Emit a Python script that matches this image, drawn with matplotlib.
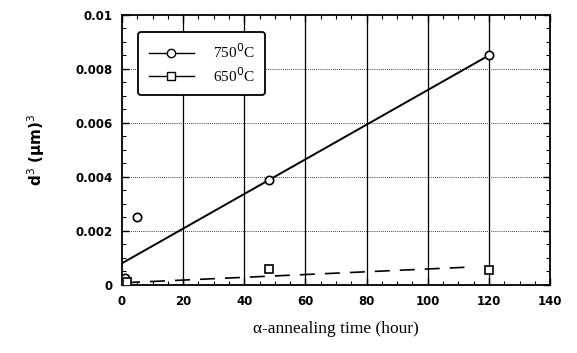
import numpy as np
import matplotlib.pyplot as plt
from matplotlib.ticker import MultipleLocator

# measured points
t750 = [0, 1, 5, 48, 120]
d750 = [0.0001, 0.00025, 0.0025, 0.0039, 0.0085]
t650 = [0, 1.5, 48, 120]
d650 = [0.00003, 0.0001, 0.0006, 0.00055]

# fitted lines (end points)
fit750_t = [0, 120]
fit750_d = [0.0008, 0.0085]
fit650_t = [1, 112]
fit650_d = [0.00008, 0.00065]

xticks = [0, 20, 40, 60, 80, 100, 120, 140]
yticks = [0, 0.002, 0.004, 0.006, 0.008, 0.01]
ylabels = ["0", "0.002", "0.004", "0.006", "0.008", "0.01"]

fig = plt.figure(figsize=(5.77, 3.53), dpi=100)
ax = fig.add_axes([0.2114, 0.193, 0.742, 0.765])

# grid: solid verticals, dotted horizontals
for x in xticks[1:-1]:
    ax.axvline(x, color="black", lw=0.9, zorder=1)
for y in yticks[1:-1]:
    ax.axhline(y, color="black", lw=0.6, ls=(0, (1, 1.5)), zorder=1)

# lines
ax.plot(fit750_t, fit750_d, color="black", lw=1.4, zorder=2)
ax.plot(fit650_t, fit650_d, color="black", lw=1.2, ls=(0, (9, 6)), zorder=2)

ax.plot(t750, d750, ls="none", marker="o", ms=6, mfc="white", mec="black", mew=1.2, zorder=3)
ax.plot(t650, d650, ls="none", marker="s", ms=6, mfc="white", mec="black", mew=1.2, zorder=3)

# legend handles
h1, = ax.plot([], [], color="black", lw=1.0, marker="o", ms=6, mfc="white", mec="black")
h2, = ax.plot([], [], color="black", lw=1.0, marker="s", ms=6, mfc="white", mec="black")
leg = ax.legend([h1, h2], ["750$^0$C", "650$^0$C"], loc="upper left",
                bbox_to_anchor=(0.037, 0.937), borderaxespad=0, fancybox=True,
                handlelength=3.0, handletextpad=1.2, borderpad=0.7, labelspacing=0.3,
                prop={"family": "Liberation Serif", "size": 11})
leg.get_frame().set_edgecolor("black")
leg.get_frame().set_linewidth(1.3)
leg.get_frame().set_alpha(1)

ax.set_xlim(0, 140)
ax.set_ylim(0, 0.01)
ax.set_xticks(xticks)
ax.set_yticks(yticks)
ax.set_yticklabels(ylabels)
ax.xaxis.set_minor_locator(MultipleLocator(5))
ax.yaxis.set_minor_locator(MultipleLocator(0.0005))
ax.tick_params(which="both", direction="in", top=True, right=True)
ax.tick_params(which="major", length=5, width=1)
ax.tick_params(which="minor", length=3, width=0.8)
ax.tick_params(axis="both", labelsize=8.5, pad=7)
for lab in ax.get_xticklabels() + ax.get_yticklabels():
    lab.set_fontweight("bold")
for s in ax.spines.values():
    s.set_linewidth(1.3)

ax.set_xlabel("α-annealing time (hour)", fontsize=12.5, family="Liberation Serif", labelpad=10)
ax.set_ylabel("d$^3$ (μm)$^3$", fontsize=11, fontweight="bold", labelpad=20)

fig.savefig("out.png", dpi=100)
